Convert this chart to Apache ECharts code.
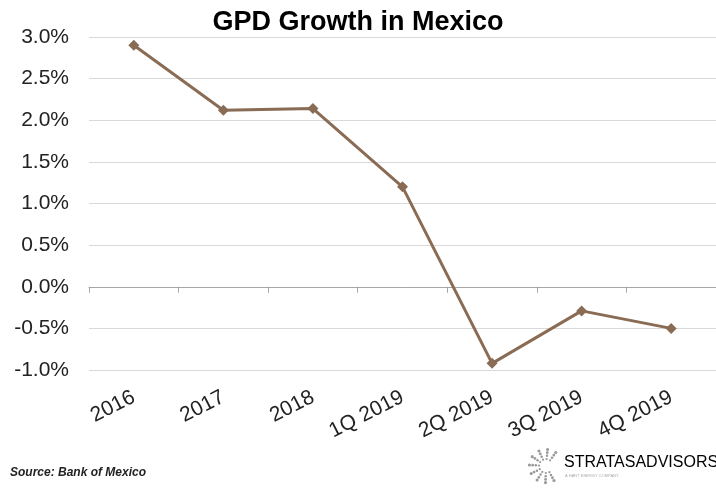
<!DOCTYPE html>
<html>
<head>
    <meta charset="utf-8">
    <script src="https://cdn.jsdelivr.net/npm/echarts@6/dist/echarts.min.js"></script>
    <style>
        html, body { margin: 0; padding: 0; background: #fff; }
    </style>
</head>
<body>
    <div id="main" style="width: 716px;height:488px"></div>

    <script type="text/javascript">
        // data (percent)
        var categories = ['2016', '2017', '2018', '1Q 2019', '2Q 2019', '3Q 2019', '4Q 2019'];
        var growth = [2.9, 2.12, 2.14, 1.2, -0.92, -0.29, -0.5];

        // little dotted "S" mark for the logo
        var logoDots = [];
        for (var r = 0; r < 4; r++) {
            for (var k = 0; k < 9; k++) {
                var a = Math.PI * (0.3 + k * 0.17);
                var rad = 7 + r * 3.2;
                logoDots.push({
                    type: 'circle',
                    shape: { cx: 546 + Math.cos(a) * rad, cy: 466 - Math.sin(a) * rad, r: 1.1 + r * 0.15 },
                    style: { fill: '#9a9a9a' },
                    silent: true
                });
            }
        }

        var myChart = echarts.init(document.getElementById('main'));
        var option = {
            animation: false,
            title: {
                text: 'GPD Growth in Mexico',
                left: 'center',
                top: 4,
                textStyle: { fontFamily: 'Liberation Sans', fontSize: 27, fontWeight: 'bold', color: '#000' }
            },
            grid: { left: 89, right: 0, top: 37, bottom: 118 },
            xAxis: [{
                type: 'category',
                data: categories,
                boundaryGap: true,
                axisLine: { show: false, onZero: false },
                axisTick: { show: false },
                axisLabel: {
                    rotate: 27,
                    margin: 26,
                    fontFamily: 'Liberation Sans',
                    fontSize: 21,
                    color: '#222'
                }
            }, {
                type: 'category',
                data: categories,
                position: 'bottom',
                boundaryGap: true,
                axisLine: { show: true, onZero: true, lineStyle: { color: '#a6a6a6', width: 1 } },
                axisTick: { show: true, inside: false, length: 6, lineStyle: { color: '#a6a6a6' } },
                axisLabel: { show: false }
            }],
            yAxis: {
                type: 'value',
                min: -1,
                max: 3,
                interval: 0.5,
                axisLine: { show: false },
                axisTick: { show: false },
                splitLine: { lineStyle: { color: '#d9d9d9', width: 1 } },
                axisLabel: {
                    margin: 20,
                    fontFamily: 'Liberation Sans',
                    fontSize: 21,
                    color: '#222',
                    formatter: function (v) { return v.toFixed(1) + '%'; }
                }
            },
            series: [{
                name: 'GDP Growth',
                type: 'line',
                data: growth,
                symbol: 'diamond',
                symbolSize: 11,
                lineStyle: { color: '#8a6b54', width: 3 },
                itemStyle: { color: '#8a6b54' }
            }],
            graphic: [{
                type: 'text',
                left: 10,
                top: 467,
                style: {
                    text: 'Source: Bank of Mexico',
                    font: 'italic bold 12px "Liberation Sans"',
                    fill: '#222'
                }
            }, {
                type: 'text',
                left: 564,
                top: 455,
                style: {
                    rich: {
                        a: { fontFamily: 'Liberation Sans', fontSize: 16, color: '#7f7f7f' },
                        b: { fontFamily: 'Liberation Sans', fontSize: 16, color: '#a6a6a6' }
                    },
                    text: '{a|STRATAS}{b|ADVISORS}'
                }
            }, {
                type: 'text',
                left: 565,
                top: 474,
                style: {
                    text: 'A HART ENERGY COMPANY',
                    font: '4px "Liberation Sans"',
                    fill: '#aaa'
                }
            }].concat(logoDots)
        };

        myChart.setOption(option);
    </script>
</body>
</html>
